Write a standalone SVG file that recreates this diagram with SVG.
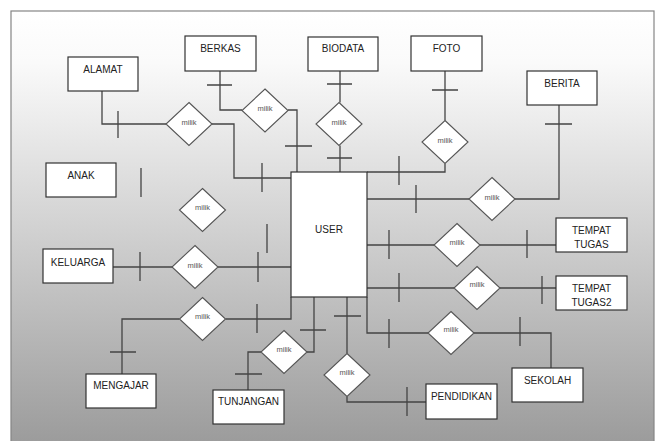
<svg xmlns="http://www.w3.org/2000/svg" width="658" height="441" viewBox="0 0 658 441">
  <defs>
    <linearGradient id="bg" x1="0" y1="11" x2="0" y2="441" gradientUnits="userSpaceOnUse">
      <stop offset="0" stop-color="#ffffff"/>
      <stop offset="0.12" stop-color="#fafafa"/>
      <stop offset="0.5" stop-color="#d2d2d2"/>
      <stop offset="1" stop-color="#9c9c9c"/>
    </linearGradient>
    <style>
      .ent { fill: #ffffff; stroke: #333333; stroke-width: 1.2; }
      .rel { fill: #ffffff; stroke: #555555; stroke-width: 1.1; }
      .lbl { font-family: "Liberation Sans", Arial, sans-serif; font-size: 10px; fill: #222222; text-anchor: middle; }
      .rl { font-family: "Liberation Sans", Arial, sans-serif; font-size: 7.5px; fill: #555555; text-anchor: middle; }
      .ln { fill: none; stroke: #444444; stroke-width: 1.3; }
    </style>
  </defs>
  <rect x="0" y="0" width="658" height="441" fill="#ffffff"/>
  <rect x="11" y="11" width="643" height="440" fill="url(#bg)" stroke="#858585" stroke-width="1.2"/>

  <g id="connectors" class="ln">
    <!-- ALAMAT -->
    <path d="M102 91 V124 H166 M212 124 H234 V178 H291"/>
    <path d="M118 111 V138 M262 163 V192"/>
    <!-- BERKAS -->
    <path d="M220 71 V110 H242 M288 110 H297 V172"/>
    <path d="M207 85 H232 M285 146 H312"/>
    <!-- BIODATA -->
    <path d="M340 71 V102.5 M340 145.5 V172"/>
    <path d="M327 84 H352 M327 158 H352"/>
    <!-- FOTO -->
    <path d="M445 71 V120.5 M445 163.5 V172 H367"/>
    <path d="M432 90 H458 M399 156 V185"/>
    <!-- BERITA -->
    <path d="M559 105 V199 H515 M469 199 H367"/>
    <path d="M545 124 H572 M416 185 V213"/>
    <!-- ANAK / floating -->
    <path d="M141 168 V197 M267 224 V253"/>
    <!-- KELUARGA -->
    <path d="M113 267 H172 M218 267 H291"/>
    <path d="M140 252 V281 M258 252 V282"/>
    <!-- MENGAJAR -->
    <path d="M291 297 V319 H225.5 M179.5 319 H122 V374"/>
    <path d="M257 304 V333 M110 352 H136"/>
    <!-- TUNJANGAN -->
    <path d="M314 297 V352 H307 M261 352 H248 V390"/>
    <path d="M300 330 H326 M235 374 H262"/>
    <!-- PENDIDIKAN -->
    <path d="M347 297 V353.5 M347 396.5 V402 H426"/>
    <path d="M334 316 H361 M407 387 V416"/>
    <!-- SEKOLAH -->
    <path d="M367 297 V333 H428 M474 333 H551 V368"/>
    <path d="M389 319 V348 M520 317 V346"/>
    <!-- TEMPAT TUGAS2 -->
    <path d="M367 288 H454 M500 288 H556"/>
    <path d="M399 273 V302 M542 276 V304"/>
    <!-- TEMPAT TUGAS -->
    <path d="M367 245 H434 M480 245 H556"/>
    <path d="M389 230 V259 M527 230 V258"/>
  </g>

  <g id="user"><rect class="ent" x="291" y="172" width="76" height="125"/><text class="lbl" x="329" y="233">USER</text></g>
  <g id="alamat"><rect class="ent" x="68" y="57" width="70" height="34"/><text class="lbl" x="103" y="73">ALAMAT</text></g>
  <g id="berkas"><rect class="ent" x="185" y="36" width="71" height="35"/><text class="lbl" x="220.5" y="52">BERKAS</text></g>
  <g id="biodata"><rect class="ent" x="308" y="37" width="70" height="34"/><text class="lbl" x="343" y="52">BIODATA</text></g>
  <g id="foto"><rect class="ent" x="411" y="36" width="71" height="35"/><text class="lbl" x="446.5" y="52">FOTO</text></g>
  <g id="berita"><rect class="ent" x="527" y="71" width="70" height="34"/><text class="lbl" x="562" y="87">BERITA</text></g>
  <g id="anak"><rect class="ent" x="46" y="163" width="70" height="34"/><text class="lbl" x="81" y="179">ANAK</text></g>
  <g id="keluarga"><rect class="ent" x="43" y="249" width="70" height="34"/><text class="lbl" x="78" y="266">KELUARGA</text></g>
  <g id="mengajar"><rect class="ent" x="86" y="374" width="70" height="34"/><text class="lbl" x="121" y="389">MENGAJAR</text></g>
  <g id="tunjangan"><rect class="ent" x="213" y="390" width="71" height="34"/><text class="lbl" x="248.5" y="405">TUNJANGAN</text></g>
  <g id="pendidikan"><rect class="ent" x="426" y="384" width="71" height="35"/><text class="lbl" x="461.5" y="400">PENDIDIKAN</text></g>
  <g id="sekolah"><rect class="ent" x="512" y="368" width="71" height="34"/><text class="lbl" x="547.5" y="384">SEKOLAH</text></g>
  <g id="tempat-tugas"><rect class="ent" x="556" y="218" width="71" height="34"/><text class="lbl" x="591.5" y="234">TEMPAT</text><text class="lbl" x="591.5" y="247.5">TUGAS</text></g>
  <g id="tempat-tugas2"><rect class="ent" x="556" y="276" width="71" height="34"/><text class="lbl" x="591.5" y="292">TEMPAT</text><text class="lbl" x="591.5" y="305.5">TUGAS2</text></g>

  <g id="milik-alamat"><polygon class="rel" points="189,102.5 212,124 189,145.5 166,124"/><text class="rl" x="189" y="125">milik</text></g>
  <g id="milik-berkas"><polygon class="rel" points="265,89 288,110.5 265,132 242,110.5"/><text class="rl" x="265" y="111">milik</text></g>
  <g id="milik-biodata"><polygon class="rel" points="339,102.5 362,124 339,145.5 316,124"/><text class="rl" x="339" y="125">milik</text></g>
  <g id="milik-foto"><polygon class="rel" points="445,120.5 468,142 445,163.5 422,142"/><text class="rl" x="445" y="143">milik</text></g>
  <g id="milik-berita"><polygon class="rel" points="492,177.5 515,199 492,220.5 469,199"/><text class="rl" x="492" y="200">milik</text></g>
  <g id="milik-anak"><polygon class="rel" points="202.5,188.5 225.5,210 202.5,231.5 179.5,210"/><text class="rl" x="202.5" y="210">milik</text></g>
  <g id="milik-keluarga"><polygon class="rel" points="195,245.5 218,267 195,288.5 172,267"/><text class="rl" x="195" y="268">milik</text></g>
  <g id="milik-mengajar"><polygon class="rel" points="202.5,297.5 225.5,319 202.5,340.5 179.5,319"/><text class="rl" x="202.5" y="319">milik</text></g>
  <g id="milik-tunjangan"><polygon class="rel" points="284,330.5 307,352 284,373.5 261,352"/><text class="rl" x="284" y="352">milik</text></g>
  <g id="milik-pendidikan"><polygon class="rel" points="347,353.5 370,375 347,396.5 324,375"/><text class="rl" x="347" y="375">milik</text></g>
  <g id="milik-sekolah"><polygon class="rel" points="451,311.5 474,333 451,354.5 428,333"/><text class="rl" x="451" y="332">milik</text></g>
  <g id="milik-tugas2"><polygon class="rel" points="477,266.5 500,288 477,309.5 454,288"/><text class="rl" x="477" y="287">milik</text></g>
  <g id="milik-tugas"><polygon class="rel" points="457,223.5 480,245 457,266.5 434,245"/><text class="rl" x="457" y="245">milik</text></g>
</svg>
